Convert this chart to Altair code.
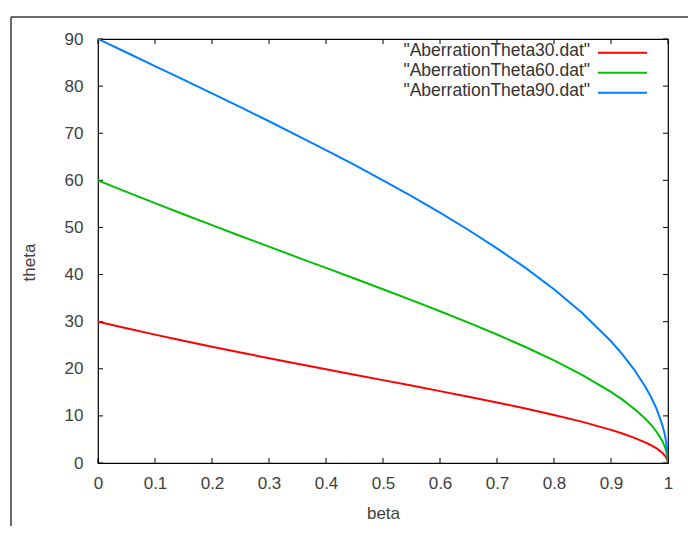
import altair as alt
import pandas as pd

beta = [0, 0.05, 0.1, 0.15, 0.2, 0.25, 0.3, 0.35, 0.4, 0.45, 0.5, 0.55, 0.6, 0.65,
        0.7, 0.75, 0.8, 0.85, 0.9, 0.92, 0.94, 0.96, 0.97, 0.98, 0.99, 0.995, 0.999, 1.0]
theta30 = [30, 28.60, 27.25, 25.95, 24.68, 23.45, 22.25, 21.07, 19.91, 18.74, 17.59, 16.43,
           15.26, 14.07, 12.85, 11.57, 10.21, 8.73, 7.04, 6.26, 5.40, 4.38, 3.79, 3.09,
           2.18, 1.54, 0.69, 0]
theta60 = [60, 57.55, 55.15, 52.80, 50.48, 48.19, 45.92, 43.66, 41.41, 39.15, 36.87, 34.56,
           32.20, 29.79, 27.27, 24.62, 21.79, 18.67, 15.09, 13.44, 11.59, 9.43, 8.15, 6.64,
           4.69, 3.31, 1.48, 0]
theta90 = [90, 87.13, 84.26, 81.37, 78.46, 75.52, 72.54, 69.51, 66.42, 63.26, 60.00, 56.63,
           53.13, 49.46, 45.57, 41.41, 36.87, 31.79, 25.84, 23.07, 19.95, 16.26, 14.07, 11.48,
           8.11, 5.73, 2.56, 0]

series = ['"AberrationTheta30.dat"', '"AberrationTheta60.dat"', '"AberrationTheta90.dat"']
colors = ["#ff0000", "#00c000", "#0080ff"]
x_ticks = [0, 0.1, 0.2, 0.3, 0.4, 0.5, 0.6, 0.7, 0.8, 0.9, 1.0]
y_ticks = [0, 10, 20, 30, 40, 50, 60, 70, 80, 90]

W, H = 570, 424
FONT = "Liberation Sans"

rows = []
for name, vals in zip(series, [theta30, theta60, theta90]):
    for b, t in zip(beta, vals):
        rows.append({"beta": b, "theta": t, "series": name})
df = pd.DataFrame(rows)

xscale = alt.Scale(domain=[0, 1], nice=False, zero=False)
yscale = alt.Scale(domain=[0, 90], nice=False, zero=False)

lines = alt.Chart(df).mark_line(strokeWidth=2, clip=True).encode(
    x=alt.X("beta:Q", scale=xscale,
            axis=alt.Axis(values=x_ticks, format="~g", title="beta", labelFlush=False,
                          labelBaseline="alphabetic", labelPadding=25,
                          titleX=W / 2, titleY=55, titleBaseline="alphabetic")),
    y=alt.Y("theta:Q", scale=yscale,
            axis=alt.Axis(values=y_ticks, title="theta", labelPadding=15, labelFlush=False,
                          titleX=-69, titleY=223, titleAngle=270,
                          titleAlign="center", titleBaseline="middle")),
    color=alt.Color("series:N", scale=alt.Scale(domain=series, range=colors), legend=None),
)

xt = pd.DataFrame({"beta": x_ticks})
yt = pd.DataFrame({"theta": y_ticks})
TL = 5
tick_bottom = alt.Chart(xt).mark_rule(color="black").encode(
    x=alt.X("beta:Q", scale=xscale), y=alt.value(H), y2=alt.value(H - TL))
tick_top = alt.Chart(xt).mark_rule(color="black").encode(
    x=alt.X("beta:Q", scale=xscale), y=alt.value(0), y2=alt.value(TL))
tick_left = alt.Chart(yt).mark_rule(color="black").encode(
    y=alt.Y("theta:Q", scale=yscale), x=alt.value(0), x2=alt.value(TL))
tick_right = alt.Chart(yt).mark_rule(color="black").encode(
    y=alt.Y("theta:Q", scale=yscale), x=alt.value(W), x2=alt.value(W - TL))

one = pd.DataFrame({"a": [0]})
frame_top = alt.Chart(one).mark_rule(color="#383838", strokeWidth=1.5).encode(
    x=alt.value(-87), x2=alt.value(590), y=alt.value(-22))
frame_left = alt.Chart(one).mark_rule(color="#383838", strokeWidth=1.5).encode(
    x=alt.value(-87), y=alt.value(-22), y2=alt.value(600))

legend_layers = []
for i, (name, col) in enumerate(zip(series, colors)):
    yb = 17 + 20 * i
    yl = 13.7 + 20 * i
    legend_layers.append(
        alt.Chart(one).mark_text(align="right", baseline="alphabetic", font=FONT,
                                 fontSize=17.5, color="#333333", text=name).encode(
            x=alt.value(492), y=alt.value(yb)))
    legend_layers.append(
        alt.Chart(one).mark_rule(color=col, strokeWidth=2).encode(
            x=alt.value(500), x2=alt.value(549), y=alt.value(yl)))

chart = alt.layer(frame_top, frame_left, tick_bottom, tick_top, tick_left, tick_right, lines,
                  *legend_layers).properties(
    width=W, height=H,
    autosize=alt.AutoSizeParams(type="none"),
    padding={"left": 90, "top": 31, "right": 20, "bottom": 63},
).configure_view(stroke="black", strokeWidth=1.2).configure_axis(
    domain=False, ticks=False, tickSize=0, grid=False,
    labelFont=FONT, titleFont=FONT, labelFontSize=17, titleFontSize=17,
    labelColor="#404040", titleColor="#404040", titleFontWeight="normal",
)

chart.save("out.html", embed_options={"renderer": "svg", "actions": False})
